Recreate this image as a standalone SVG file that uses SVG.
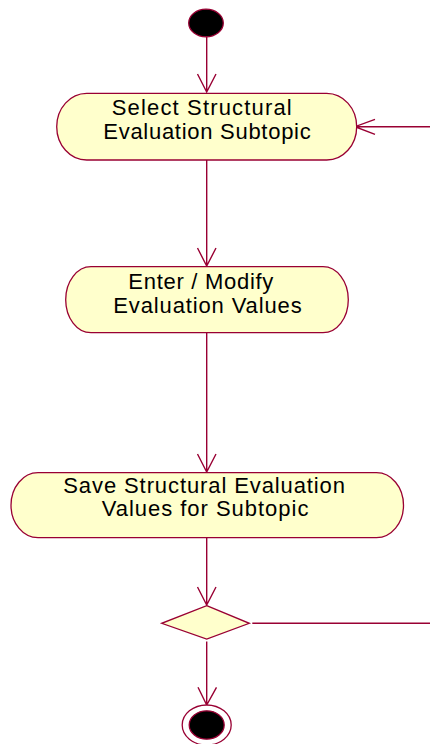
<svg xmlns="http://www.w3.org/2000/svg" width="430" height="744" viewBox="0 0 430 744">
<style>
.node{fill:#FFFFCC;stroke:#990033;stroke-width:1.3}
.edge{fill:none;stroke:#990033;stroke-width:1.4}
.dot{fill:#000000;stroke:#990033;stroke-width:1.3}
.lbl{font-family:"Liberation Sans",Arial,sans-serif;font-size:22px;fill:#000000}
</style>
<rect x="0" y="0" width="430" height="744" fill="#FFFFFF"/>
<g id="connectors">
<path class="edge" d="M206.7,37 V92 M197.5,74 L206.7,92 L216,74"/>
<path class="edge" d="M206.7,160 V266 M197.5,248 L206.7,266 L216,248"/>
<path class="edge" d="M206.7,333 V472 M197.5,454 L206.7,472 L216,454"/>
<path class="edge" d="M206.7,538 V605 M197.5,587 L206.7,605 L216,587"/>
<path class="edge" d="M206.7,641.5 V705 M198,687.3 L206.7,705 L216.5,687.3"/>
<path class="edge" d="M252.3,623.3 H430"/>
<path class="edge" d="M430,126.7 H355 M375,119.3 L355,126.7 L375,134.3"/>
</g>
<g id="start">
<ellipse class="dot" cx="206" cy="23" rx="17.3" ry="13.8"/>
</g>
<g id="select">
<path class="node" d="M86.7,93.3 H326.7 A30,33.35 0 0 1 326.7,160 H86.7 A30,33.35 0 0 1 86.7,93.3 Z"/>
<text class="lbl" x="111.7" y="115.3" textLength="180" lengthAdjust="spacing">Select Structural</text>
<text class="lbl" x="103.3" y="138.7" textLength="207.4" lengthAdjust="spacing">Evaluation Subtopic</text>
</g>
<g id="enter">
<path class="node" d="M91,266.7 H323 A25.3,33 0 0 1 323,332.7 H91 A25.3,33 0 0 1 91,266.7 Z"/>
<text class="lbl" x="128.3" y="289.3" textLength="145" lengthAdjust="spacing">Enter / Modify</text>
<text class="lbl" x="113.3" y="312.7" textLength="188.4" lengthAdjust="spacing">Evaluation Values</text>
</g>
<g id="save">
<path class="node" d="M38,472.7 H376.5 A27,32.5 0 0 1 376.5,537.7 H38 A27,32.5 0 0 1 38,472.7 Z"/>
<text class="lbl" x="63.3" y="493" textLength="281.7" lengthAdjust="spacing">Save Structural Evaluation</text>
<text class="lbl" x="101.7" y="516.3" textLength="206.7" lengthAdjust="spacing">Values for Subtopic</text>
</g>
<g id="decision">
<polygon class="node" points="206.7,605.7 249.3,623.3 206.7,639 161.7,623.3"/>
</g>
<g id="end">
<ellipse cx="206.7" cy="725" rx="24.5" ry="20" fill="#FFFFFF" stroke="#990033" stroke-width="1.3"/>
<ellipse class="dot" cx="206.7" cy="725" rx="17.5" ry="14.2"/>
</g>
</svg>
